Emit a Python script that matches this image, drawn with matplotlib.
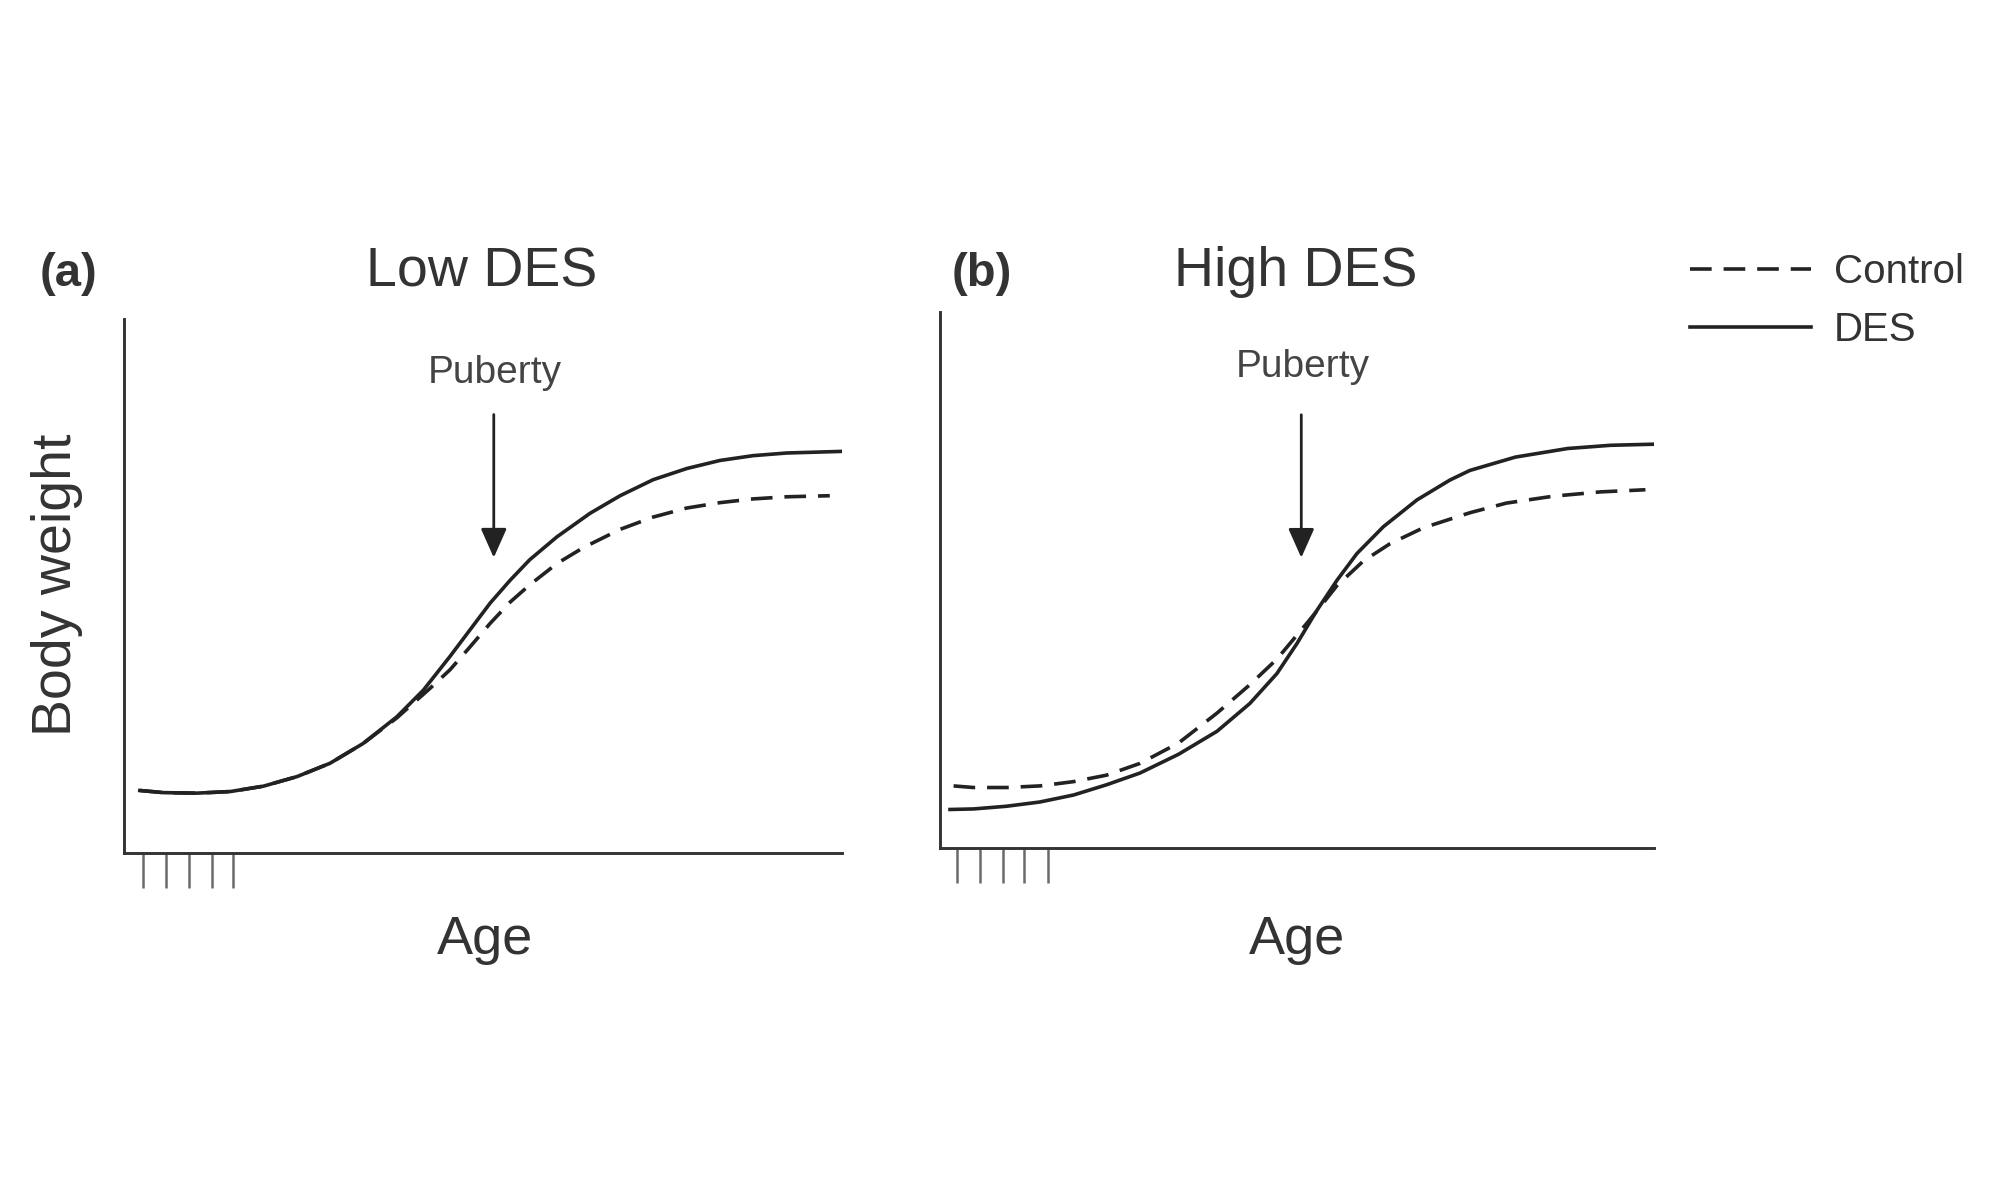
import matplotlib.pyplot as plt

plt.rcParams['font.family'] = ['Liberation Sans', 'DejaVu Sans']

# panel (a): low DES
age_a_des = [2.2, 5.5, 10.1, 14.8, 19.4, 24.1, 28.7, 33.3, 38.0, 41.7, 45.4, 48.2,
             51.0, 53.8, 56.5, 60.3, 64.9, 69.1, 73.7, 78.4, 83.0, 87.6, 92.3, 100.0]
weight_a_des = [11.7, 11.3, 11.2, 11.5, 12.5, 14.3, 16.8, 20.5, 25.5, 30.5, 36.8, 41.8,
                46.8, 51.1, 54.9, 59.2, 63.6, 66.9, 69.9, 72.0, 73.5, 74.4, 74.9, 75.2]
age_a_ctrl = [2.2, 5.5, 10.1, 14.8, 19.4, 24.1, 28.7, 33.3, 38.0, 42.6, 45.4, 48.2,
              51.0, 53.8, 56.5, 60.3, 64.0, 69.1, 73.7, 78.4, 83.0, 87.6, 92.3, 98.3]
weight_a_ctrl = [11.7, 11.3, 11.2, 11.5, 12.5, 14.3, 16.8, 20.5, 25.3, 30.8, 34.3, 38.6,
                 43.0, 47.0, 50.2, 54.2, 57.2, 60.6, 62.9, 64.6, 65.6, 66.3, 66.7, 66.9]

# panel (b): high DES
age_b_des = [1.4, 4.7, 9.3, 14.0, 18.7, 23.3, 28.0, 33.4, 38.8, 43.4, 47.2, 50.0,
             52.8, 55.6, 58.4, 62.1, 66.8, 71.4, 74.2, 80.6, 87.9, 93.9, 99.8]
weight_b_des = [7.2, 7.3, 7.8, 8.6, 9.9, 11.8, 14.0, 17.5, 21.8, 27.0, 32.6, 38.2,
                44.4, 50.0, 55.0, 60.0, 65.0, 68.7, 70.5, 73.0, 74.6, 75.2, 75.4]
age_b_ctrl = [1.9, 4.7, 9.3, 14.0, 18.7, 23.3, 28.0, 33.4, 38.8, 43.4, 47.2, 51.4,
              53.7, 55.6, 59.3, 63.0, 67.7, 74.2, 79.3, 85.9, 92.5, 98.8]
weight_b_ctrl = [11.6, 11.3, 11.3, 11.6, 12.4, 13.6, 15.8, 19.6, 25.2, 30.5, 35.3, 42.0,
                 45.8, 49.0, 53.6, 56.8, 59.8, 62.6, 64.4, 65.7, 66.5, 66.9]

# exposure ticks under the age axis
ticks_a = [2.6, 5.8, 9.0, 12.3, 15.2]
ticks_b = [2.4, 5.6, 8.8, 11.8, 15.1]

# puberty arrow: x, top, tip
puberty_a = (51.5, 82.1, 55.3)
puberty_b = (50.6, 80.9, 54.2)

titles = ['Low DES', 'High DES']
letters = ['(a)', '(b)']

INK = '#222222'
TXT = '#333333'

fig = plt.figure(figsize=(20, 12), dpi=100)
ax_a = fig.add_axes([0.062, 0.2892, 0.359, 0.445])
ax_b = fig.add_axes([0.470, 0.2933, 0.357, 0.4463])

panels = [
    (ax_a, age_a_ctrl, weight_a_ctrl, age_a_des, weight_a_des, ticks_a, puberty_a),
    (ax_b, age_b_ctrl, weight_b_ctrl, age_b_des, weight_b_des, ticks_b, puberty_b),
]

for ax, xc, yc, xd, yd, tks, pub in panels:
    ctrl, = ax.plot(xc, yc, color=INK, lw=2.6, ls=(0, (6, 3.3)),
                    dash_capstyle='butt', dash_joinstyle='round', label='Control')
    des, = ax.plot(xd, yd, color=INK, lw=2.6, solid_joinstyle='round', label='DES')
    ax.set_xlim(0, 100)
    ax.set_ylim(0, 100)
    for s in ['top', 'right']:
        ax.spines[s].set_visible(False)
    for s in ['left', 'bottom']:
        ax.spines[s].set_linewidth(2.1)
        ax.spines[s].set_color('#333333')
    ax.set_yticks([])
    ax.set_xticks(tks)
    ax.set_xticklabels([])
    ax.tick_params(axis='x', direction='out', length=25, width=1.8,
                   color='#6a6a6a', pad=0)
    ax.annotate('', xy=(pub[0], pub[2]), xytext=(pub[0], pub[1]),
                arrowprops=dict(arrowstyle='-|>,head_length=0.9,head_width=0.4',
                                lw=2.0, color=INK, mutation_scale=20,
                                shrinkA=0, shrinkB=0))
    ax.text(pub[0] + 0.2, 89.8, 'Puberty', ha='center', va='center',
            fontsize=28, color='#444444')

fig.text(0.0345, 0.7717, letters[0], ha='center', va='center',
         fontsize=34, fontweight='bold', color=TXT)
fig.text(0.491, 0.7717, letters[1], ha='center', va='center',
         fontsize=34, fontweight='bold', color=TXT)
fig.text(0.241, 0.7733, titles[0], ha='center', va='center', fontsize=40, color=TXT)
fig.text(0.648, 0.7733, titles[1], ha='center', va='center', fontsize=40, color=TXT)

fig.text(0.0285, 0.513, 'Body weight', rotation=90, ha='center', va='center',
         fontsize=40, color=TXT)
fig.text(0.2425, 0.2167, 'Age', ha='center', va='center', fontsize=39, color=TXT)
fig.text(0.6485, 0.2167, 'Age', ha='center', va='center', fontsize=39, color=TXT)

fig.legend(handles=[ctrl, des], loc='center left', bbox_to_anchor=(0.845, 0.749),
           frameon=False, fontsize=29, handlelength=3.0, handletextpad=0.57,
           labelspacing=0.5, borderpad=0, borderaxespad=0, labelcolor=TXT)

fig.savefig('out.png', dpi=100, facecolor='white')
